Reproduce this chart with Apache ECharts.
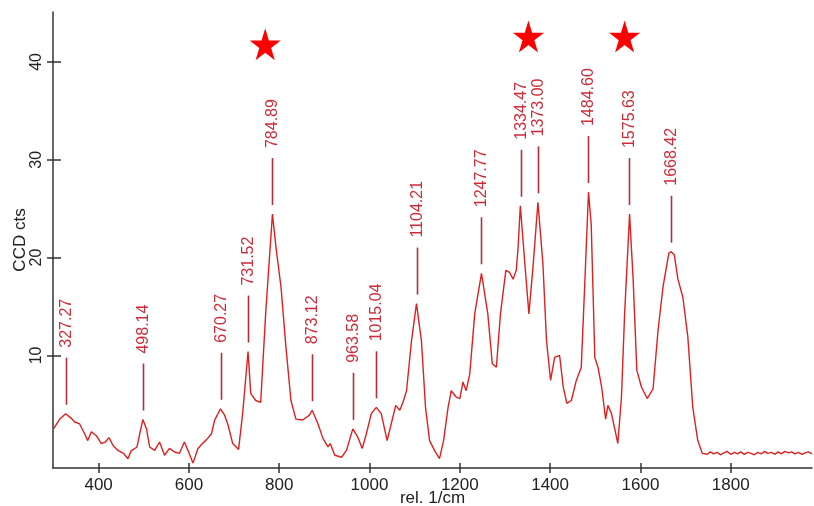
<!DOCTYPE html>
<html lang="en">
<head>
    <meta charset="UTF-8">
    <title>Raman spectrum</title>
    <style>
        html, body { margin: 0; padding: 0; background: #fff; }
        #chart { width: 814px; height: 506px; }
    </style>
</head>
<body>
    <script src="https://cdn.jsdelivr.net/npm/echarts@6/dist/echarts.min.js"></script>
    <div id="chart"></div>
    <script>
        // spectrum (rel. 1/cm, CCD cts)
        var wavenumber = [300, 314, 327, 339, 347, 358, 369, 376, 384, 395, 406, 415, 423, 432, 443, 455, 465, 472, 485, 492,
            498, 506, 513, 524, 535, 546, 557, 568, 579, 590, 600, 609, 620, 630, 639, 650, 657, 670, 679, 686,
            697, 710, 719, 731, 737, 748, 759, 770, 785, 793, 804, 815, 826, 837, 852, 867, 873, 886, 897, 908,
            913, 923, 938, 949, 963, 974, 984, 993, 1004, 1015, 1026, 1039, 1048, 1058, 1067, 1074, 1082, 1093, 1104, 1115,
            1124, 1133, 1144, 1155, 1164, 1174, 1181, 1192, 1200, 1207, 1214, 1222, 1233, 1248, 1262, 1272, 1281, 1290, 1302, 1310,
            1318, 1325, 1329, 1334, 1344, 1353, 1362, 1373, 1384, 1392, 1401, 1410, 1421, 1429, 1437, 1447, 1458, 1469, 1477, 1485,
            1491, 1499, 1506, 1514, 1523, 1528, 1536, 1550, 1558, 1565, 1576, 1584, 1592, 1602, 1615, 1628, 1639, 1650, 1663, 1668,
            1675, 1683, 1694, 1705, 1716, 1727, 1731, 1737, 1740, 1748, 1755, 1762, 1770, 1777, 1785, 1792, 1800, 1808,
            1815, 1822, 1830, 1838, 1845, 1852, 1860, 1868, 1875, 1882, 1890, 1898, 1905, 1912, 1920, 1928, 1935, 1942, 1950, 1958,
            1965, 1972, 1980];
        var counts = [2.5, 3.5, 4.05, 3.6, 3.2, 3.0, 2.0, 1.3, 2.2, 1.8, 1.0, 1.15, 1.6, 0.8, 0.3, 0.0, -0.55, 0.25, 0.65, 2.2,
            3.45, 2.5, 0.65, 0.3, 1.15, -0.2, 0.5, 0.13, 0.0, 1.15, 0.05, -1.0, 0.5, 1.0, 1.4, 2.0, 3.4, 4.55, 3.9, 3.0,
            1.0, 0.4, 4.05, 10.4, 6.1, 5.4, 5.2, 14.3, 24.45, 21, 17, 10.8, 5.4, 3.5, 3.4, 3.9, 4.4, 3.0, 1.5, 0.65,
            1.0, -0.2, -0.4, 0.3, 2.5, 1.65, 0.5, 2.0, 4.05, 4.7, 4.05, 1.3, 3.0, 4.9, 4.4, 5.2, 6.4, 11.5, 15.3, 11.5,
            4.7, 1.3, 0.3, -0.55, 1.3, 4.7, 6.4, 5.75, 5.6, 7.3, 6.4, 8.1, 14.25, 18.4, 14.25, 9.15, 8.8, 14.25, 18.7, 18.5,
            17.8, 18.7, 21, 25.3, 19.4, 14.25, 19, 25.65, 19.4, 11.5, 7.45, 9.8, 10.0, 6.8, 5.1, 5.4, 7.45, 8.8, 17.65, 26.7,
            23.4, 9.8, 8.8, 6.8, 3.5, 4.9, 4.05, 1.0, 5.75, 14.25, 24.45, 17.65, 8.5, 6.8, 5.6, 6.6, 12.55, 17, 20.45, 20.6,
            20.3, 17.8, 15.95, 11.9, 4.7, 1.3, 1.5, 0, 0.1, -0.1, 0.15, -0.05, 0.1, -0.15, 0.05, 0.2, -0.1, 0.1,
            -0.05, 0.15, -0.1, 0.1, 0.0, -0.15, 0.1, -0.05, 0.2, 0.0, 0.1, -0.1, 0.15, -0.05, 0.2, 0.05, 0.15, -0.05, 0.1, -0.1,
            0.05, 0.15, -0.05];

        // labelled peaks
        var peakPos = [327.27, 498.14, 670.27, 731.52, 784.89, 873.12, 963.58, 1015.04, 1104.21, 1247.77, 1334.47, 1373.00, 1484.60, 1575.63, 1668.42];
        var peakVal = [4.05, 3.45, 4.55, 10.4, 24.45, 4.4, 2.5, 4.7, 15.3, 18.4, 25.3, 25.65, 26.7, 24.45, 20.6];
        var peakText = ['327.27', '498.14', '670.27', '731.52', '784.89', '873.12', '963.58', '1015.04', '1104.21', '1247.77', '1334.47', '1373.00', '1484.60', '1575.63', '1668.42'];

        // stars over the marked bands
        var starPos = [769, 1352, 1565];
        var starVal = [41.8, 42.6, 42.6];

        var xTicks = [400, 600, 800, 1000, 1200, 1400, 1600, 1800];
        var yTicks = [10, 20, 30, 40];

        var font = 'Arial, "Liberation Sans", sans-serif';
        var starPath = 'path://M100 0 L122.45 69.1 L195.1 69.1 L136.3 111.8 L158.8 180.9 L100 138.2 L41.2 180.9 L63.7 111.8 L4.9 69.1 L77.55 69.1 Z';

        var line = wavenumber.map(function (w, i) { return [w, counts[i]]; });
        var peaks = peakPos.map(function (w, i) { return [w, peakVal[i]]; });
        var stars = starPos.map(function (w, i) { return [w, starVal[i]]; });

        var plain = function (v) { return String(v); };

        var mCharts = echarts.init(document.getElementById('chart'));
        var axisCol = '#333';
        var option = {
            backgroundColor: '#fff',
            animation: false,
            grid: { left: 53, right: 2, top: 12, bottom: 38, containLabel: false, outerBoundsMode: 'none' },
            xAxis: [
                {
                    type: 'value', min: 299, max: 1980, position: 'bottom',
                    name: 'rel. 1/cm', nameLocation: 'middle', nameGap: 22, nameMoveOverlap: false,
                    nameTextStyle: { color: '#222', fontSize: 17, fontFamily: font },
                    axisLine: { onZero: false, lineStyle: { color: axisCol, width: 1.5 } },
                    axisTick: { inside: true, length: 5, customValues: xTicks, lineStyle: { color: axisCol, width: 1.5 } },
                    axisLabel: { customValues: xTicks, formatter: plain, margin: 9, color: '#222', fontSize: 17, fontFamily: font },
                    splitLine: { show: false }
                },
                {
                    type: 'value', min: 299, max: 1980, position: 'bottom',
                    axisLine: { show: false, onZero: false },
                    axisTick: { inside: false, length: 5, customValues: xTicks, lineStyle: { color: axisCol, width: 1.5 } },
                    axisLabel: { show: false },
                    splitLine: { show: false }
                }
            ],
            yAxis: [
                {
                    type: 'value', min: -1.5, max: 45.1, position: 'left',
                    name: 'CCD cts', nameLocation: 'middle', nameGap: 24, nameMoveOverlap: false,
                    nameTextStyle: { color: '#222', fontSize: 17, fontFamily: font },
                    axisLine: { show: true, onZero: false, lineStyle: { color: axisCol, width: 1.5 } },
                    axisTick: { show: true, inside: true, length: 8, customValues: yTicks, lineStyle: { color: axisCol, width: 1.5 } },
                    axisLabel: { customValues: yTicks, formatter: plain, rotate: 90, margin: 8, color: '#222', fontSize: 16, fontFamily: font },
                    splitLine: { show: false }
                },
                {
                    type: 'value', min: -1.5, max: 45.1, position: 'left',
                    axisLine: { show: false, onZero: false },
                    axisTick: { show: true, inside: false, length: 6, customValues: yTicks, lineStyle: { color: axisCol, width: 1.5 } },
                    axisLabel: { show: false },
                    splitLine: { show: false }
                }
            ],
            series: [
                {
                    type: 'line',
                    data: line,
                    symbol: 'none',
                    smooth: false,
                    lineStyle: { color: '#dd2020', width: 1.4 },
                    z: 3
                },
                {
                    type: 'custom',
                    data: peaks,
                    renderItem: function (params, api) {
                        var p = api.coord([api.value(0), api.value(1)]);
                        var x = Math.round(p[0]) + 0.5;
                        var yBot = p[1] - 9;
                        var yTop = yBot - 47;
                        return {
                            type: 'group',
                            children: [
                                {
                                    type: 'line',
                                    shape: { x1: x, y1: yBot, x2: x, y2: yTop },
                                    style: { stroke: '#b3303a', lineWidth: 1.6 }
                                },
                                {
                                    type: 'text',
                                    x: x,
                                    y: yTop - 10,
                                    rotation: Math.PI / 2,
                                    style: {
                                        text: peakText[params.dataIndex],
                                        fill: '#cc2d3a',
                                        font: '16px ' + font,
                                        align: 'left', verticalAlign: 'middle',
                                        textAlign: 'left', textVerticalAlign: 'middle'
                                    }
                                }
                            ]
                        };
                    },
                    z: 4
                },
                {
                    type: 'scatter',
                    data: stars,
                    symbol: starPath,
                    symbolSize: [31, 32],
                    itemStyle: { color: '#ff0000', opacity: 1 },
                    z: 5
                }
            ]
        };
        mCharts.setOption(option);
    </script>
</body>
</html>
